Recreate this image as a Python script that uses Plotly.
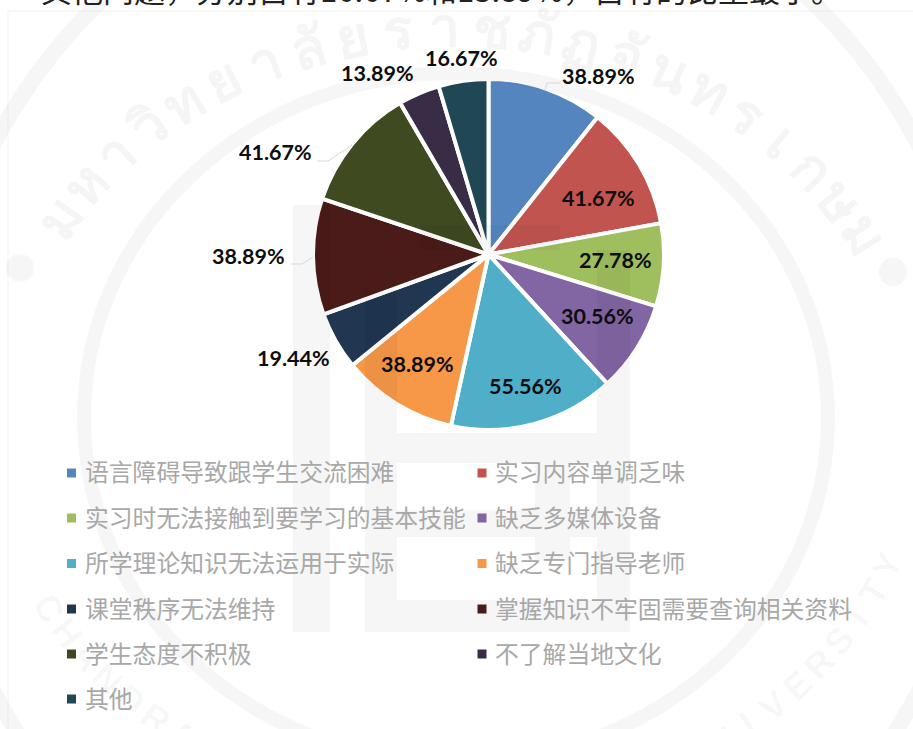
import math
import plotly.graph_objects as go

W, H = 913, 729

categories = ["语言障碍导致跟学生交流困难", "实习内容单调乏味", "实习时无法接触到要学习的基本技能", "缺乏多媒体设备",
              "所学理论知识无法运用于实际", "缺乏专门指导老师", "课堂秩序无法维持", "掌握知识不牢固需要查询相关资料",
              "学生态度不积极", "不了解当地文化", "其他"]
values = [38.89, 41.67, 27.78, 30.56, 55.56, 38.89, 19.44, 38.89, 41.67, 13.89, 16.67]
colors = ["#5585bf", "#c25450", "#9fbe5d", "#8265a3", "#4fafc9", "#f69847",
          "#203651", "#4a1b19", "#3f4a21", "#382c47", "#1f4754"]

# label centres in pixels, same order as values
label_xy = [(598, 76), (598, 198), (615, 260), (597, 316), (525, 386), (417, 364),
            (293, 358), (249, 256), (275, 152), (377, 73), (461, 58)]
leaders = [[(545, 90), (547, 83), (560, 83)],
           [(352, 145), (328, 161), (317, 161)],
           [(313, 257), (302, 264), (291, 264)]]

top_text = "其他问题，分别占有16.67%和13.89%，占有的比重最小。"
thai_text = ["ม", "ห", "า", "วิ", "ท", "ย", "า", "ลั", "ย", "ร", "า", "ช", "ภั", "ฏ", "จั", "น", "ท", "ร", "เ", "ก", "ษ", "ม"]
english_text = "CHANDRAKASEM RAJABHAT UNIVERSITY"

WM = "rgba(0,0,0,0.035)"
CJK = "Noto Sans CJK SC"


def px(x):
    return x / W


def py(y):
    return 1 - y / H


def ellipse(cx, cy, rx, ry, width):
    return dict(type="circle", xref="paper", yref="paper", layer="above",
                x0=px(cx - rx), x1=px(cx + rx), y0=py(cy + ry), y1=py(cy - ry),
                line=dict(color=WM, width=width), fillcolor="rgba(0,0,0,0)")


def rect_path(x0, y0, x1, y1):
    return f"M{px(x0)},{py(y0)} L{px(x1)},{py(y0)} L{px(x1)},{py(y1)} L{px(x0)},{py(y1)} Z"


fig = go.Figure(go.Pie(
    labels=categories,
    values=values,
    sort=False,
    direction="clockwise",
    rotation=0,
    textinfo="none",
    marker=dict(colors=colors, line=dict(color="white", width=4)),
    domain=dict(x=[px(313), px(664)], y=[py(430), py(79)]),
    showlegend=False,
))

shapes = []
# watermark, drawn over the pie so it tints it a little
shapes.append(ellipse(456, 418, 529, 563, 16))
shapes.append(ellipse(456, 418, 372, 345, 14))
blocks = [(293, 205, 330, 632), (365, 290, 397, 632), (365, 433, 605, 463), (365, 600, 630, 632),
          (597, 250, 630, 632), (535, 440, 570, 560), (397, 510, 600, 537), (420, 225, 560, 250)]
shapes.append(dict(type="path", xref="paper", yref="paper", layer="above", fillrule="nonzero",
                   path=" ".join(rect_path(*b) for b in blocks), fillcolor=WM, line=dict(width=0)))
for dot_x, dot_y in [(20, 268), (893, 272)]:
    shapes.append(dict(type="circle", xref="paper", yref="paper", layer="above",
                       x0=px(dot_x - 14), x1=px(dot_x + 14), y0=py(dot_y + 14), y1=py(dot_y - 14),
                       fillcolor=WM, line=dict(width=0)))
# thin frame of the pasted chart
shapes.append(dict(type="rect", xref="paper", yref="paper", layer="below",
                   x0=px(8), x1=px(925), y0=py(740), y1=py(11),
                   line=dict(color="#f3f3f3", width=1)))
for pts in leaders:
    path = "M" + " L".join(f"{px(x)},{py(y)}" for x, y in pts)
    shapes.append(dict(type="path", xref="paper", yref="paper", path=path,
                       line=dict(color="#d9d9d9", width=1)))

annotations = []


def add_text(x, y, text, size, color, family=CJK, anchor="center", angle=0):
    annotations.append(dict(x=px(x), y=py(y), xref="paper", yref="paper", text=text, showarrow=False,
                            xanchor=anchor, yanchor="middle", textangle=angle, borderpad=0,
                            font=dict(size=size, color=color, family=family)))


# ring lettering of the watermark
for i, ch in enumerate(thai_text):
    t = math.radians(-59 + 121 * i / (len(thai_text) - 1))
    x = 456 + 465 * math.sin(t)
    y = 418 - 393 * math.cos(t)
    add_text(x, y, f"<b>{ch}</b>", 56, "rgba(0,0,0,0.04)", family="Noto Sans",
             angle=math.degrees(math.atan2(393 * math.sin(t), 465 * math.cos(t))))
for i, ch in enumerate(english_text):
    t = math.radians(241 - 129 * i / (len(english_text) - 1))
    x = 456 + 465 * math.sin(t)
    y = 418 - 393 * math.cos(t)
    add_text(x, y, f"<b>{ch}</b>", 36, "rgba(0,0,0,0.035)", family="Liberation Sans",
             angle=math.degrees(math.atan2(393 * math.sin(t), 465 * math.cos(t))) + 180)

add_text(40, -12, top_text, 31, "#222222", anchor="left")

for v, (x, y) in zip(values, label_xy):
    add_text(x, y, f"<b>{v:.2f}%</b>", 21.5, "#0d0d0d", family="Lato")

# two column legend
row_y = [473, 518, 563.5, 609, 654, 699]
col_x = [71.5, 482]
for i, (name, color) in enumerate(zip(categories, colors)):
    lx = col_x[i % 2]
    ly = row_y[i // 2]
    shapes.append(dict(type="rect", xref="paper", yref="paper", layer="above",
                       x0=px(lx - 4.5), x1=px(lx + 4.5), y0=py(ly + 4.5), y1=py(ly - 4.5),
                       fillcolor=color, line=dict(width=0)))
    add_text(lx + 12, ly - 2, name, 23.8, "#a8a8a8", anchor="left")

fig.update_layout(
    width=W, height=H,
    margin=dict(l=0, r=0, t=0, b=0),
    paper_bgcolor="white",
    shapes=shapes,
    annotations=annotations,
)

# page margin would shift everything by 8px
fig.write_html("out.html", config={"displayModeBar": False},
               post_script="document.body.style.margin='0';document.body.style.overflow='hidden';")
